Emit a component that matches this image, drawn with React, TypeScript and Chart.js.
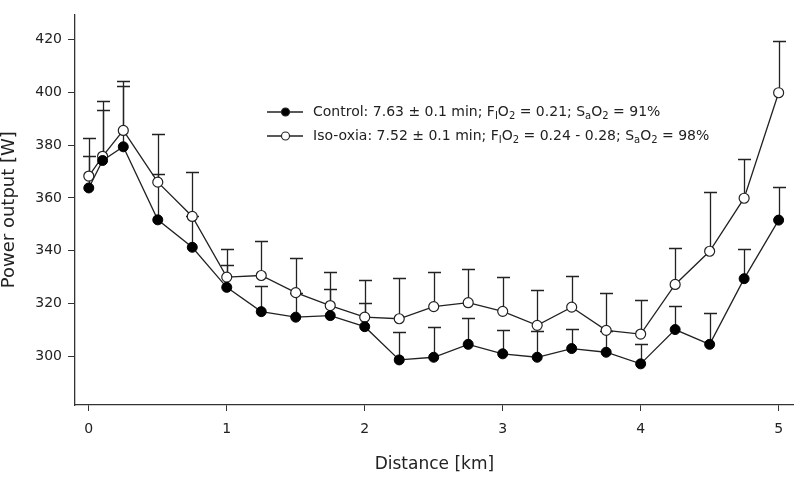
import React, { useEffect, useRef } from 'react';
import { Chart, registerables } from 'chart.js';

Chart.register(...registerables);

// ---- data ----
const distances = [0, 0.1, 0.25, 0.5, 0.75, 1, 1.25, 1.5, 1.75, 2, 2.25, 2.5, 2.75, 3, 3.25, 3.5, 3.75, 4, 4.25, 4.5, 4.75, 5];
const controlMean = [363.8, 374.2, 379.4, 351.7, 341.3, 326.1, 316.9, 314.8, 315.4, 311.2, 298.6, 299.6, 304.5, 300.9, 299.6, 302.9, 301.5, 297.1, 310.1, 304.5, 329.4, 351.6];
const controlUpper = [375.9, 393.5, 402.4, 368.9, 353.0, 334.4, 326.6, 324.0, 325.3, 320.2, 309.0, 310.9, 314.3, 309.9, 309.4, 310.2, 309.5, 304.8, 319.1, 316.5, 340.7, 364.3];
const isoMean = [368.3, 375.8, 385.6, 366.0, 353.0, 330.0, 330.6, 324.1, 319.2, 314.8, 314.2, 318.8, 320.3, 317.0, 311.7, 318.6, 309.8, 308.4, 327.2, 339.8, 359.9, 399.9];
const isoUpper = [382.8, 396.7, 404.2, 384.4, 369.8, 340.8, 343.6, 337.1, 332.0, 329.0, 329.8, 332.0, 333.2, 330.0, 325.1, 330.6, 324.1, 321.2, 340.9, 362.3, 374.6, 419.6];
const xTicks = [0, 1, 2, 3, 4, 5];
const yTicks = [300, 320, 340, 360, 380, 400, 420];
const xTitle = 'Distance [km]';
const yTitle = 'Power output [W]';
// legend text pieces: [text, isSubscript]
const legendControl: [string, boolean][] = [
  ['Control: 7.63 ± 0.1 min; F', false], ['I', true], ['O', false], ['2', true],
  [' = 0.21; S', false], ['a', true], ['O', false], ['2', true], [' = 91%', false],
];
const legendIso: [string, boolean][] = [
  ['Iso-oxia: 7.52 ± 0.1 min; F', false], ['I', true], ['O', false], ['2', true],
  [' = 0.24 - 0.28; S', false], ['a', true], ['O', false], ['2', true], [' = 98%', false],
];

const FONT = '"DejaVu Sans", "Liberation Sans", Arial, sans-serif';
const INK = '#222';

const errorBarPlugin = {
  id: 'errorBars',
  beforeDatasetsDraw(chart: any) {
    const { ctx, scales } = chart;
    const x = scales.x;
    const y = scales.y;
    ctx.save();
    ctx.strokeStyle = INK;
    ctx.lineWidth = 1.3;
    const sets: [number[], number[]][] = [[controlMean, controlUpper], [isoMean, isoUpper]];
    sets.forEach(([m, u]) => {
      distances.forEach((d, i) => {
        const px = Math.round(x.getPixelForValue(d)) + 0.5;
        const y0 = y.getPixelForValue(m[i]);
        const y1 = Math.round(y.getPixelForValue(u[i])) + 0.5;
        ctx.beginPath();
        ctx.moveTo(px, y0);
        ctx.lineTo(px, y1);
        ctx.moveTo(px - 6.5, y1);
        ctx.lineTo(px + 6.5, y1);
        ctx.stroke();
      });
    });
    ctx.restore();
  },
};

function drawLegendRow(ctx: CanvasRenderingContext2D, yc: number, filled: boolean, parts: [string, boolean][]) {
  ctx.save();
  ctx.strokeStyle = INK;
  ctx.lineWidth = 1.3;
  ctx.beginPath();
  ctx.moveTo(267, yc);
  ctx.lineTo(303, yc);
  ctx.stroke();
  ctx.beginPath();
  ctx.arc(285.5, yc, 4, 0, Math.PI * 2);
  ctx.fillStyle = filled ? '#000' : '#fff';
  ctx.fill();
  ctx.lineWidth = 1.1;
  ctx.stroke();
  let tx = 313;
  ctx.fillStyle = INK;
  ctx.textBaseline = 'middle';
  ctx.textAlign = 'left';
  parts.forEach(([t, sub]) => {
    ctx.font = sub ? `10px ${FONT}` : `14px ${FONT}`;
    ctx.fillText(t, tx, sub ? yc + 4 : yc);
    tx += ctx.measureText(t).width;
  });
  ctx.restore();
}

const legendPlugin = {
  id: 'customLegend',
  afterDraw(chart: any) {
    const ctx = chart.ctx as CanvasRenderingContext2D;
    drawLegendRow(ctx, 112, true, legendControl);
    drawLegendRow(ctx, 136, false, legendIso);
  },
};

export default function App() {
  const ref = useRef<HTMLCanvasElement | null>(null);
  useEffect(() => {
    document.body.style.margin = '0';
    const canvas = ref.current;
    if (!canvas) return;
    const chart = new Chart(canvas, {
      type: 'line',
      data: {
        datasets: [
          {
            label: 'Control',
            data: distances.map((d, i) => ({ x: d, y: controlMean[i] })),
            borderColor: INK,
            borderWidth: 1.3,
            pointRadius: 5,
            pointBackgroundColor: '#000',
            pointBorderColor: '#000',
            pointBorderWidth: 1,
            tension: 0,
            fill: false,
          },
          {
            label: 'Iso-oxia',
            data: distances.map((d, i) => ({ x: d, y: isoMean[i] })),
            borderColor: INK,
            borderWidth: 1.3,
            pointRadius: 5,
            pointBackgroundColor: '#fff',
            pointBorderColor: INK,
            pointBorderWidth: 1.2,
            tension: 0,
            fill: false,
          },
        ],
      },
      options: {
        responsive: false,
        animation: false,
        layout: { padding: { top: 3, right: 3, left: 0, bottom: 0 } },
        plugins: { legend: { display: false }, tooltip: { enabled: false } },
        scales: {
          x: {
            type: 'linear',
            min: -0.1,
            max: 5.11,
            afterBuildTicks: (s: any) => { s.ticks = xTicks.map((v) => ({ value: v })); },
            afterFit: (s: any) => { s.height = 72; },
            grid: { display: true, drawOnChartArea: false, drawTicks: true, tickLength: 6, color: '#333', lineWidth: 1 },
            border: { display: true, color: '#333', width: 1.3 },
            ticks: { color: INK, font: { family: FONT, size: 14 }, padding: 10, maxRotation: 0, autoSkip: false },
            title: { display: true, text: xTitle, color: INK, font: { family: FONT, size: 17, lineHeight: 1 }, padding: { top: 0, bottom: 4 } },
          },
          y: {
            type: 'linear',
            min: 281.5,
            max: 429.6,
            afterBuildTicks: (s: any) => { s.ticks = yTicks.map((v) => ({ value: v })); },
            afterFit: (s: any) => { s.width = 75; },
            grid: { display: true, drawOnChartArea: false, drawTicks: true, tickLength: 7, color: '#333', lineWidth: 1 },
            border: { display: true, color: '#333', width: 1.3 },
            ticks: { color: INK, font: { family: FONT, size: 14 }, padding: 6, autoSkip: false },
            title: { display: true, text: yTitle, color: INK, font: { family: FONT, size: 18, lineHeight: 1 }, padding: { top: 0, bottom: 0 } },
          },
        },
      },
      plugins: [errorBarPlugin, legendPlugin],
    });
    return () => chart.destroy();
  }, []);
  return (
    <div style={{ width: 800, height: 477, background: '#fff' }}>
      <canvas ref={ref} width={800} height={477} style={{ display: 'block' }} />
    </div>
  );
}
